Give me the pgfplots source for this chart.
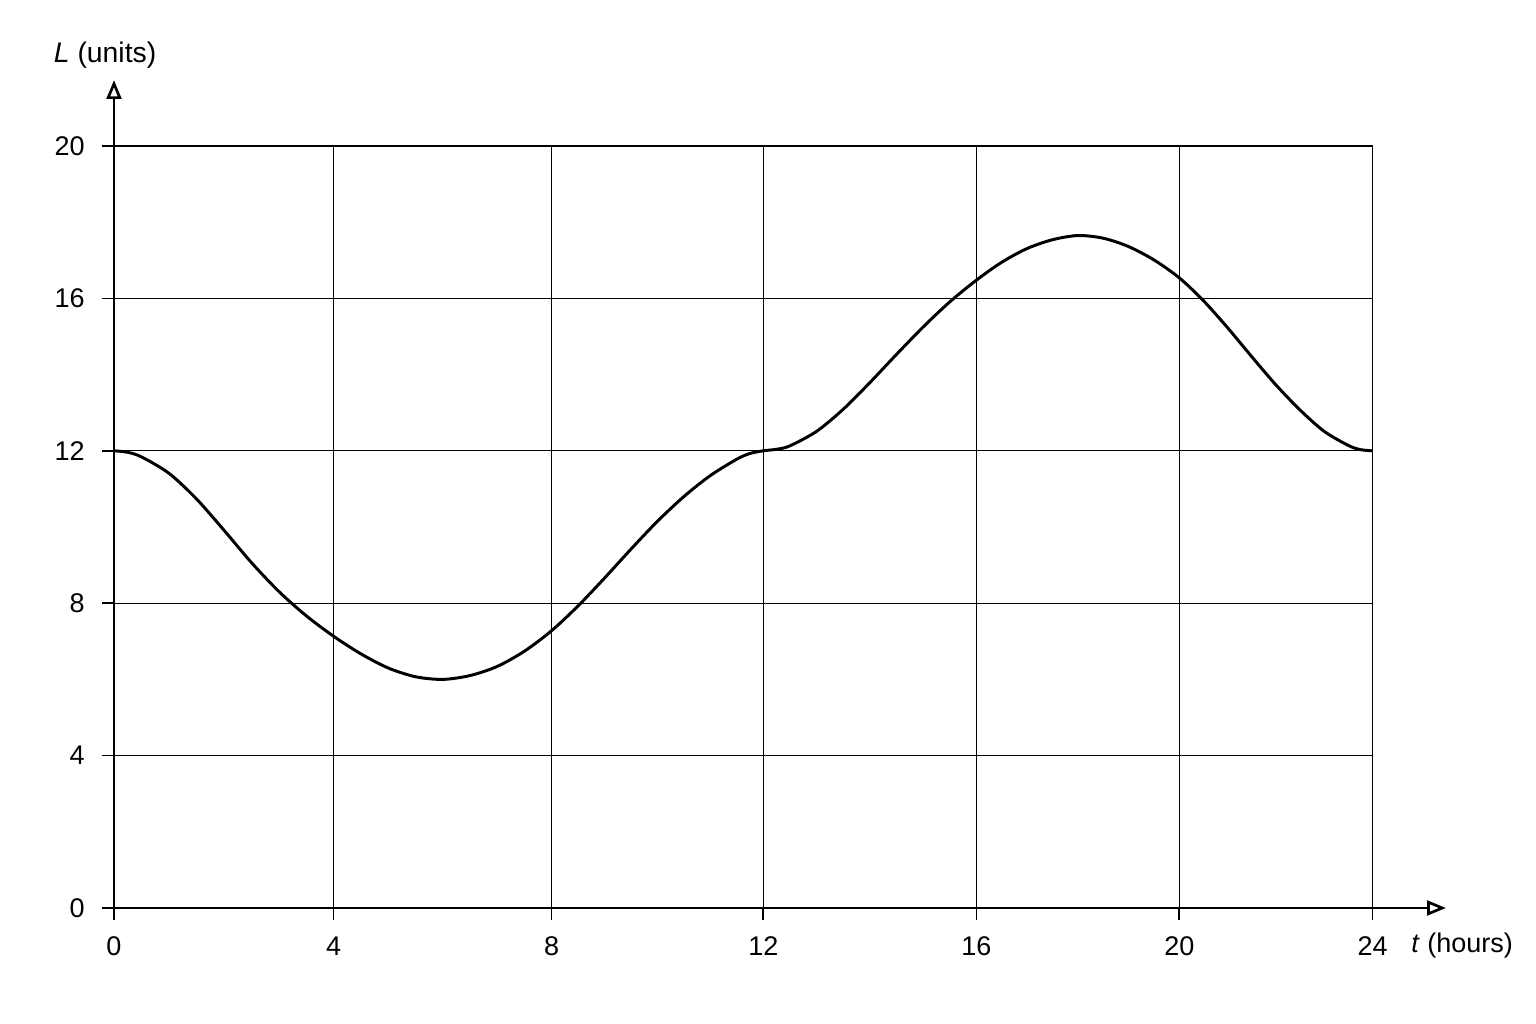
\documentclass[border=0pt]{standalone}
\usepackage{fontspec}
\setmainfont{Liberation Sans}
\usepackage{pgfplots}
\pgfplotsset{compat=1.18}
\usetikzlibrary{arrows.meta}

\begin{document}
\begin{tikzpicture}
\begin{axis}[
    scale only axis,
    width=466.1pt, height=282.2pt,
    xmin=0, xmax=24, ymin=0, ymax=20,
    % the grid of the original is slightly uneven: piecewise linear placement
    x coord trafo/.code={\pgfmathparse{(#1<0)?(#1):((#1<=4)?(1.0473*#1):((#1<=8)?(4.189+1.0393*(#1-4)):((#1<=12)?(8.346+1.0088*(#1-8)):((#1<=16)?(12.381+1.0165*(#1-12)):((#1<=20)?(16.447+0.9668*(#1-16)):((#1<=24)?(20.314+0.9215*(#1-20)):(#1)))))))}},
    xtick={0,4,8,12,16,20,24},
    xticklabels={0,4,8,12,16,20,24},
    ytick={0,4,8,12,16,20},
    xtick pos=left, ytick pos=left,
    tick align=outside,
    major tick length=4.3pt,
    tick style={black, line width=0.6pt},
    grid=major,
    major grid style={black, line width=0.5pt},
    axis line style={black, line width=0.5pt},
    /pgf/number format/assume math mode=true,
    ticklabel style={font=\fontsize{10}{12}\selectfont},
    xticklabel style={yshift=-2.7pt},
    yticklabel style={xshift=-3pt},
    clip=false,
  ]
  \addplot[black, line width=1.1pt, smooth] coordinates {
    (0,12) (0.25,11.96) (0.5,11.84) (1,11.41) (1.5,10.74) (2,9.92)
    (2.5,9.07) (3,8.31) (3.5,7.67) (4,7.13) (4.5,6.67) (5,6.30)
    (5.5,6.07) (6,6.00) (6.5,6.10) (7,6.34) (7.5,6.74) (8,7.28)
    (8.5,7.93) (9,8.66) (9.5,9.42) (10,10.15) (10.5,10.80) (11,11.35)
    (11.5,11.78) (11.75,11.93) (12,12) (12.25,12.04) (12.5,12.13) (13,12.51)
    (13.5,13.09) (14,13.79) (14.5,14.53) (15,15.25) (15.5,15.91) (16,16.48)
    (16.5,16.95) (17,17.31) (17.5,17.54) (18,17.65) (18.5,17.58) (19,17.36)
    (19.5,17.01) (20,16.54) (20.5,15.94) (21,15.23) (21.5,14.47) (22,13.73)
    (22.5,13.07) (23,12.51) (23.5,12.14) (23.75,12.03) (24,12)
  };

  % main axes with open arrow heads
  \draw[black, line width=1pt, -{Triangle[open, length=7pt, width=5.5pt]}]
    (axis cs:0,0) -- (axis cs:25.4,0);
  \draw[black, line width=1pt, -{Triangle[open, length=7pt, width=5.5pt]}]
    (axis cs:0,0) -- (axis cs:0,21.73);

  \node[anchor=base, font=\fontsize{10.5}{12}\selectfont] at (axis cs:-0.17,22.18) {\textit{L} (units)};
  \node[anchor=base, font=\fontsize{10}{12}\selectfont] at (axis cs:25.71,-1.17) {\textit{t} (hours)};

  \path (axis cs:-2.174,-3.045) rectangle (axis cs:27.117,23.832);
\end{axis}
\end{tikzpicture}
\end{document}
